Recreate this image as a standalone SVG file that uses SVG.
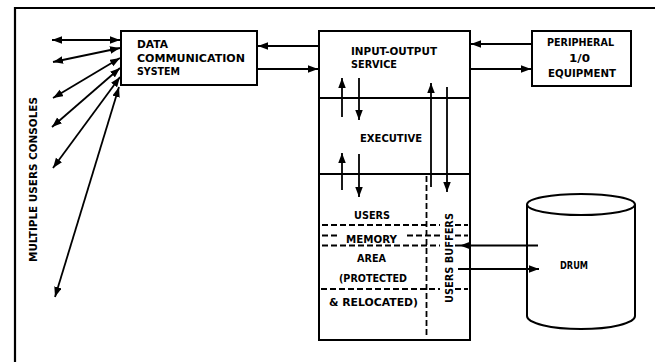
<svg xmlns="http://www.w3.org/2000/svg" width="655" height="362" viewBox="0 0 655 362">
<defs>
<marker id="ah" markerUnits="userSpaceOnUse" markerWidth="11" markerHeight="8" refX="10" refY="3.75" orient="auto-start-reverse">
<path d="M0,0 L10,3.75 L0,7.5 z" fill="#000"/>
</marker>
</defs>
<style>
.box{fill:none;stroke:#000;stroke-width:2}
.ar{fill:none;stroke:#000;stroke-width:1.8;marker-end:url(#ah)}
.da{fill:none;stroke:#000;stroke-width:1.8;marker-end:url(#ah);marker-start:url(#ah)}
.dash{fill:none;stroke:#000;stroke-width:1.8;stroke-dasharray:6 3}
.t{font-family:"DejaVu Sans","Liberation Sans",Arial,sans-serif;font-weight:bold;font-size:10.5px;fill:#000}
</style>
<rect width="655" height="362" fill="#fff"/>
<g id="frame">
<path d="M15,362 L15,8 L655,8" fill="none" stroke="#000" stroke-width="2.2"/>
</g>
<g id="consoles-label">
<text class="t" transform="translate(37,262) rotate(-90)" textLength="165" lengthAdjust="spacingAndGlyphs">MULTIPLE USERS CONSOLES</text>
</g>
<g id="dcs">
<rect class="box" x="121" y="31" width="136" height="54"/>
<text class="t" x="137" y="48" textLength="31" lengthAdjust="spacingAndGlyphs">DATA</text>
<text class="t" x="137" y="62" textLength="108" lengthAdjust="spacingAndGlyphs">COMMUNICATION</text>
<text class="t" x="137" y="75" textLength="43" lengthAdjust="spacingAndGlyphs">SYSTEM</text>
</g>
<g id="io-service">
<rect class="box" x="319" y="31" width="151" height="67"/>
<text class="t" x="351" y="55" textLength="86" lengthAdjust="spacingAndGlyphs">INPUT-OUTPUT</text>
<text class="t" x="351" y="68" textLength="46" lengthAdjust="spacingAndGlyphs">SERVICE</text>
</g>
<g id="executive">
<rect class="box" x="319" y="98" width="151" height="76"/>
<text class="t" x="360" y="141.5" textLength="62" lengthAdjust="spacingAndGlyphs">EXECUTIVE</text>
</g>
<g id="users-area">
<rect class="box" x="319" y="174" width="151" height="166"/>
<path class="dash" d="M426.5,176 L426.5,338"/>
<path class="dash" d="M322,225 L440,225 M455,225 L468,225"/>
<path class="dash" d="M322,235.5 L340,235.5 M407,235.5 L440,235.5 M455,235.5 L468,235.5"/>
<path class="dash" d="M322,245.5 L440,245.5 M455,245.5 L460,245.5"/>
<path class="dash" d="M321,289 L440,289 M455,289 L468,289"/>
<text class="t" x="354" y="219" textLength="36" lengthAdjust="spacingAndGlyphs">USERS</text>
<text class="t" x="346" y="242.5" textLength="51" lengthAdjust="spacingAndGlyphs">MEMORY</text>
<text class="t" x="357" y="262" textLength="29" lengthAdjust="spacingAndGlyphs">AREA</text>
<text class="t" x="339" y="282" textLength="68" lengthAdjust="spacingAndGlyphs">(PROTECTED</text>
<text class="t" x="329" y="306" textLength="89" lengthAdjust="spacingAndGlyphs">&amp; RELOCATED)</text>
<text class="t" transform="translate(452.5,303) rotate(-90)" textLength="90" lengthAdjust="spacingAndGlyphs">USERS BUFFERS</text>
</g>
<g id="peripheral">
<rect class="box" x="532" y="31" width="99" height="55"/>
<text class="t" x="547" y="46" textLength="67" lengthAdjust="spacingAndGlyphs">PERIPHERAL</text>
<text class="t" x="569" y="62" textLength="21" lengthAdjust="spacingAndGlyphs">1/0</text>
<text class="t" x="548" y="77" textLength="68" lengthAdjust="spacingAndGlyphs">EQUIPMENT</text>
</g>
<g id="drum">
<path class="box" d="M527,204.5 L527,316 A54,13 0 0 0 635,316 L635,204.5"/>
<ellipse class="box" cx="581" cy="204.5" rx="54" ry="10.5"/>
<text class="t" x="560" y="269" textLength="28" lengthAdjust="spacingAndGlyphs">DRUM</text>
</g>
<g id="connectors">
<line class="da" x1="52" y1="40" x2="120" y2="40"/>
<line class="da" x1="53" y1="62" x2="120" y2="48"/>
<line class="da" x1="53" y1="98" x2="120" y2="58"/>
<line class="da" x1="52" y1="127" x2="120" y2="68"/>
<line class="da" x1="53" y1="168" x2="120" y2="77"/>
<line class="da" x1="55" y1="297" x2="119" y2="87"/>
<line class="ar" x1="319" y1="46" x2="258" y2="46"/>
<line class="ar" x1="257" y1="69" x2="318" y2="69"/>
<line class="ar" x1="532" y1="44" x2="471" y2="44"/>
<line class="ar" x1="470" y1="69" x2="531" y2="69"/>
<line class="ar" x1="342" y1="117" x2="342" y2="78"/>
<line class="ar" x1="359" y1="78" x2="359" y2="120"/>
<line class="ar" x1="342" y1="190" x2="342" y2="153"/>
<line class="ar" x1="359" y1="154" x2="359" y2="197"/>
<line class="ar" x1="431" y1="187" x2="431" y2="83"/>
<line class="ar" x1="447" y1="87" x2="447" y2="192"/>
<line class="ar" x1="538" y1="245.5" x2="460" y2="245.5"/>
<line class="ar" x1="458" y1="269" x2="539" y2="269"/>
</g>
</svg>
